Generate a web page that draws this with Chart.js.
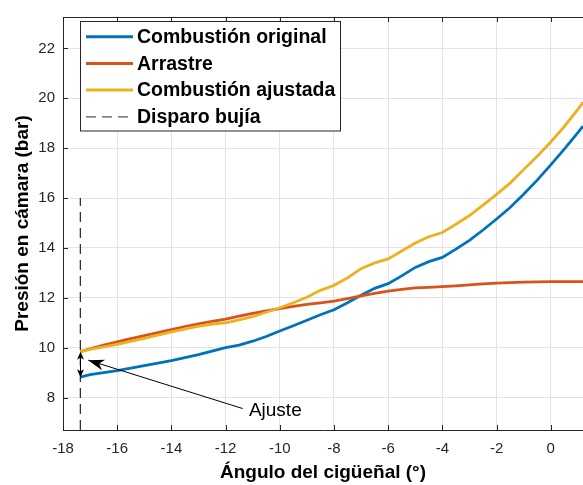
<!DOCTYPE html>
<html>
<head>
<meta charset="utf-8">
<script src="https://cdn.jsdelivr.net/npm/chart.js@4.4.1/dist/chart.umd.min.js"></script>
<style>
  html, body { margin: 0; padding: 0; background: #fff; overflow: hidden; }
  canvas { display: block; }
</style>
</head>
<body>
<canvas id="presionChart" width="583" height="485"></canvas>
<script>
// --- datos ---
const angulo = [-17.36, -17, -16.5, -16, -15.5, -15, -14.5, -14, -13.5, -13, -12.5, -12, -11.5, -11, -10.5, -10,
  -9.5, -9, -8.5, -8, -7.5, -7, -6.5, -6, -5.5, -5, -4.5, -4, -3.5, -3, -2.5, -2, -1.5, -1, -0.5, 0, 0.5, 1, 1.19];

const combOriginal = [8.82, 8.92, 9.0, 9.08, 9.18, 9.28, 9.38, 9.48, 9.6, 9.72, 9.86, 10.0, 10.1, 10.26, 10.45, 10.67,
  10.88, 11.1, 11.32, 11.52, 11.8, 12.1, 12.38, 12.57, 12.88, 13.22, 13.45, 13.62, 13.95, 14.3, 14.72, 15.16, 15.62,
  16.15, 16.72, 17.33, 17.96, 18.62, 18.88];

const arrastre = [9.84, 9.95, 10.1, 10.23, 10.36, 10.48, 10.6, 10.73, 10.85, 10.96, 11.06, 11.15, 11.27, 11.38, 11.48, 11.57,
  11.66, 11.74, 11.8, 11.87, 11.97, 12.08, 12.18, 12.27, 12.34, 12.4, 12.42, 12.45, 12.48, 12.52, 12.56, 12.59, 12.61,
  12.63, 12.64, 12.65, 12.65, 12.65, 12.65];

const combAjustada = [9.84, 9.93, 10.03, 10.13, 10.25, 10.37, 10.5, 10.63, 10.74, 10.86, 10.95, 11.0, 11.12, 11.25, 11.42, 11.6,
  11.8, 12.02, 12.3, 12.5, 12.8, 13.17, 13.4, 13.56, 13.88, 14.2, 14.45, 14.62, 14.95, 15.3, 15.72, 16.15, 16.6,
  17.14, 17.68, 18.25, 18.87, 19.56, 19.84];

const disparoAngulo = -17.36;
const disparoPresion = [6.7, 16];

const xTicks = [-18, -16, -14, -12, -10, -8, -6, -4, -2, 0];
const yTicks = [8, 10, 12, 14, 16, 18, 20, 22];

// anotación "Ajuste"
const ajusteTexto = "Ajuste";
const ajusteTextoPos = [-11.14, 7.26];
const ajusteFlecha = { desde: [-11.37, 7.56], hasta: [-17.07, 9.50] };

const nombres = ["Combustión original", "Arrastre", "Combustión ajustada", "Disparo bujía"];
const colores = ["#0072BD", "#D95319", "#EDB120", "#262626"];

const FUENTE = "'Liberation Sans', Arial, Helvetica, sans-serif";
const EJE = "#262626";

function puntos(xs, ys) {
  return xs.map((x, i) => ({ x: x, y: ys[i] }));
}

function punta(ctx, tx, ty, fx, fy, len, half) {
  const a = Math.atan2(ty - fy, tx - fx);
  const c = Math.cos(a), s = Math.sin(a);
  const bx = tx - len * c, by = ty - len * s;
  const nx = tx - len * 0.72 * c, ny = ty - len * 0.72 * s;
  ctx.beginPath();
  ctx.moveTo(tx, ty);
  ctx.lineTo(bx - half * s, by + half * c);
  ctx.lineTo(nx, ny);
  ctx.lineTo(bx + half * s, by - half * c);
  ctx.closePath();
  ctx.fill();
}

// marco, ticks interiores, flechas y leyenda al estilo MATLAB
const estiloMatlab = {
  id: 'estiloMatlab',
  beforeDatasetsDraw(chart) {
    const { ctx, chartArea: a, scales: { x, y } } = chart;
    ctx.save();
    ctx.strokeStyle = EJE;
    ctx.lineWidth = 1;
    ctx.beginPath();
    ctx.moveTo(a.left, a.top + 0.5);
    ctx.lineTo(a.right, a.top + 0.5);
    xTicks.forEach(v => {
      const px = Math.round(x.getPixelForValue(v)) + 0.5;
      ctx.moveTo(px, a.top);
      ctx.lineTo(px, a.top + 5);
      ctx.moveTo(px, a.bottom);
      ctx.lineTo(px, a.bottom - 5);
    });
    yTicks.forEach(v => {
      const py = Math.round(y.getPixelForValue(v)) + 0.5;
      ctx.moveTo(a.left, py);
      ctx.lineTo(a.left + 5, py);
    });
    ctx.stroke();
    ctx.restore();
  },
  afterDatasetsDraw(chart) {
    const { ctx, scales: { x, y } } = chart;
    ctx.save();
    ctx.fillStyle = "#000";
    ctx.strokeStyle = "#000";
    ctx.lineWidth = 1;

    // flecha doble en el disparo
    const dx = Math.round(x.getPixelForValue(disparoAngulo)) + 0.5;
    const yArr = y.getPixelForValue(combAjustada[0]);
    const yAbj = y.getPixelForValue(combOriginal[0]);
    ctx.beginPath();
    ctx.moveTo(dx, yArr + 4);
    ctx.lineTo(dx, yAbj - 4);
    ctx.stroke();
    punta(ctx, dx, yArr, dx, yAbj, 8, 3.5);
    punta(ctx, dx, yAbj, dx, yArr, 8, 3.5);

    // flecha de "Ajuste"
    const fx = x.getPixelForValue(ajusteFlecha.desde[0]);
    const fy = y.getPixelForValue(ajusteFlecha.desde[1]);
    const tx = x.getPixelForValue(ajusteFlecha.hasta[0]);
    const ty = y.getPixelForValue(ajusteFlecha.hasta[1]);
    ctx.beginPath();
    ctx.moveTo(fx, fy);
    ctx.lineTo(tx, ty);
    ctx.stroke();
    punta(ctx, tx, ty, fx, fy, 16, 5.5);

    ctx.font = "19px " + FUENTE;
    ctx.textBaseline = "alphabetic";
    ctx.textAlign = "left";
    ctx.fillText(ajusteTexto, x.getPixelForValue(ajusteTextoPos[0]), y.getPixelForValue(ajusteTextoPos[1]));

    // leyenda
    const lx = 80.5, ly = 21.5, lw = 260, lh = 109.5;
    ctx.fillStyle = "#fff";
    ctx.fillRect(lx, ly, lw, lh);
    ctx.strokeStyle = EJE;
    ctx.strokeRect(lx, ly, lw, lh);
    ctx.font = "bold 19.5px " + FUENTE;
    ctx.textBaseline = "middle";
    nombres.forEach((nombre, i) => {
      const fila = 36.7 + i * 26.7;
      ctx.beginPath();
      if (i === 3) {
        ctx.setLineDash([10, 6]);
        ctx.lineWidth = 1.2;
        ctx.strokeStyle = "#555";
      } else {
        ctx.setLineDash([]);
        ctx.lineWidth = 3;
        ctx.strokeStyle = colores[i];
      }
      ctx.moveTo(86, fila);
      ctx.lineTo(133, fila);
      ctx.stroke();
      ctx.fillStyle = "#000";
      ctx.fillText(nombre, 137, fila + 1);
    });
    ctx.restore();
  }
};

const ctx = document.getElementById('presionChart').getContext('2d');
new Chart(ctx, {
  type: 'line',
  data: {
    datasets: [
      { label: nombres[0], data: puntos(angulo, combOriginal), borderColor: colores[0], borderWidth: 2.8, pointRadius: 0, order: 4 },
      { label: nombres[1], data: puntos(angulo, arrastre), borderColor: colores[1], borderWidth: 2.8, pointRadius: 0, order: 3 },
      { label: nombres[2], data: puntos(angulo, combAjustada), borderColor: colores[2], borderWidth: 2.8, pointRadius: 0, order: 2 },
      { label: nombres[3], data: puntos([disparoAngulo, disparoAngulo], disparoPresion), borderColor: EJE,
        borderWidth: 1.2, borderDash: [10, 6], pointRadius: 0, order: 1 }
    ]
  },
  options: {
    responsive: false,
    devicePixelRatio: 1,
    animation: false,
    layout: { padding: { top: 12, right: 0, left: 0, bottom: 0 } },
    plugins: {
      legend: { display: false },
      tooltip: { enabled: false }
    },
    scales: {
      x: {
        type: 'linear',
        min: -18,
        max: 1.19,
        afterBuildTicks: s => { s.ticks = xTicks.map(v => ({ value: v })); },
        afterFit: s => { s.height = 55; },
        grid: { color: '#e3e3e3', lineWidth: 1, drawTicks: false },
        border: { display: true, color: EJE, width: 1 },
        ticks: { color: EJE, padding: 10, maxRotation: 0, font: { family: FUENTE, size: 15 } },
        title: { display: true, text: 'Ángulo del cigüeñal (°)', color: '#000', padding: { top: 0, bottom: 1 },
          font: { family: FUENTE, size: 19, weight: 'bold' } }
      },
      y: {
        min: 6.7,
        max: 23.26,
        afterBuildTicks: s => { s.ticks = yTicks.map(v => ({ value: v })); },
        afterFit: s => { s.width = 63; },
        grid: { color: '#e3e3e3', lineWidth: 1, drawTicks: false },
        border: { display: true, color: EJE, width: 1 },
        ticks: { color: EJE, padding: 8, font: { family: FUENTE, size: 15 } },
        title: { display: true, text: 'Presión en cámara (bar)', color: '#000', padding: { top: 11, bottom: 0 },
          font: { family: FUENTE, size: 19, weight: 'bold' } }
      }
    }
  },
  plugins: [estiloMatlab]
});
</script>
</body>
</html>
